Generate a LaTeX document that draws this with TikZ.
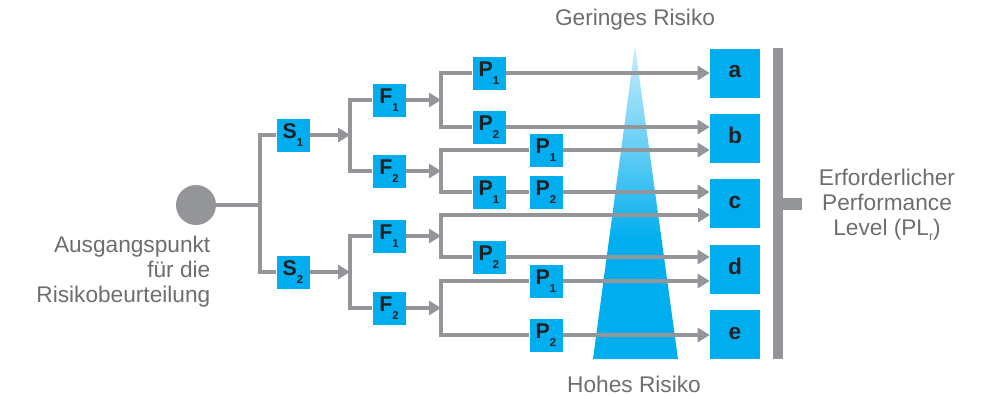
\documentclass[tikz,border=0pt]{standalone}
\usepackage{fontspec}
\setmainfont{Liberation Sans}
\usetikzlibrary{positioning,arrows.meta,backgrounds}
\definecolor{boxB}{HTML}{00AEEF}
\definecolor{lineG}{HTML}{939598}
\definecolor{textG}{HTML}{6D6E71}
\definecolor{textK}{HTML}{231F20}

% risk wedge: light at the top, full blue in the lower part
\pgfdeclareverticalshading{wedgefade}{100bp}{color(0bp)=(boxB); color(25bp)=(boxB);
  color(44bp)=(boxB); color(58bp)=(boxB!62); color(75bp)=(boxB!22); color(100bp)=(boxB!22)}

% letter with a low subscript, as in the boxes
\newcommand{\sublbl}[2]{#1\raisebox{-6pt}{\fontsize{8.5}{8.5}\selectfont #2}}

\begin{document}
\begin{tikzpicture}[
    x=0.75pt, y=-0.75pt,
    >={Triangle[length=9pt,width=10.5pt]},
    font=\fontsize{17}{18.75}\selectfont,
    sbox/.style={fill=boxB,minimum size=24.75pt,inner sep=0pt,text=textK,
                 font=\fontsize{16}{16}\selectfont\bfseries},
    plbox/.style={fill=boxB,minimum width=37.5pt,minimum height=36.75pt,
                  inner sep=0pt,text height=6.8pt,text depth=0pt,text=textK,
                  font=\fontsize{17}{17}\selectfont\bfseries},
    wire/.style={draw=lineG,line width=2.4pt},
    flow/.style={wire,->},
    note/.style={text=textG},
]
\useasboundingbox (0,0) rectangle (992,396);

% =====================================================================
%  start point and S / F levels
% =====================================================================
\node[circle,fill=lineG,minimum size=30pt,inner sep=0pt] (start) at (196,205) {};
\node[note,align=right,anchor=east] (starttext) at (215,272)
     {Ausgangspunkt\\für die\\Risikobeurteilung};

\node[sbox] (s1) at (293,135) {\sublbl{S}{1}};
\node[sbox] (s2) at (293,272) {\sublbl{S}{2}};

\node[sbox] (f1) at (389,100) {\sublbl{F}{1}};
\node[sbox] (f2) at (389,171) {\sublbl{F}{2}};
\node[sbox] (f3) at (389,236) {\sublbl{F}{1}};
\node[sbox] (f4) at (389,308) {\sublbl{F}{2}};

% branch points
\coordinate (j0)  at (260,205);
\coordinate (js1) at (350,135);
\coordinate (js2) at (350,272);
\foreach \n/\y in {1/100,2/171,3/236,4/308}
   \coordinate (jf\n) at (441,\y);

% =====================================================================
%  P level
% =====================================================================
\node[sbox] (p1) at (489,73)  {\sublbl{P}{1}};
\node[sbox] (p2) at (489,127) {\sublbl{P}{2}};
\node[sbox] (p3) at (546,150) {\sublbl{P}{1}};
\node[sbox] (p4) at (489,192) {\sublbl{P}{1}};
\node[sbox] (p5) at (546,192) {\sublbl{P}{2}};
\node[sbox] (p6) at (489,257) {\sublbl{P}{2}};
\node[sbox] (p7) at (546,281) {\sublbl{P}{1}};
\node[sbox] (p8) at (546,335) {\sublbl{P}{2}};

% =====================================================================
%  PLr boxes a..e
% =====================================================================
\foreach \n/\y in {a/73,b/138.5,c/203.5,d/269.5,e/334.5}
   \node[plbox] (\n) at (735,\y) {\n};
\coordinate (cin) at (710,215);

\fill[lineG] (773,48) rectangle (783,359);
\fill[lineG] (783,198) rectangle (802,210);
\node[note,align=center] (pltext) at (887,205)
     {Erforderlicher\\Performance\\Level (PL\raisebox{-4pt}{\fontsize{9}{9}\selectfont r})};

\node[note] (low)  at (635,20)  {Geringes Risiko};
\node[note] (high) at (634,384) {Hohes Risiko};

% =====================================================================
%  risk wedge and connectors (behind the boxes)
% =====================================================================
\begin{scope}[on background layer]
\shade[shading=wedgefade] (593,359) -- (635,46) -- (678,359) -- cycle;

\draw[wire] (start) -- (j0);
\foreach \j/\n in {j0/s1,j0/s2,js1/f1,js1/f2,js2/f3,js2/f4}
   \draw[wire] (\j) |- (\n);
\foreach \n/\j in {s1/js1,s2/js2,f1/jf1,f2/jf2,f3/jf3,f4/jf4}
   \draw[flow] (\n) -- (\j);

\draw[flow] (jf1) |- (p1) -- (a);
\draw[flow] (jf1) |- (p2) -- (p2 -| b.west);
\draw[flow] (jf2) |- (p3) -- (p3 -| b.west);
\draw[flow] (jf2) |- (p4) -- (p5) -- (p5 -| c.west);
\draw[flow] (jf3) |- (cin);
\draw[flow] (jf3) |- (p6) -- (p6 -| d.west);
\draw[flow] (jf4) |- (p7) -- (p7 -| d.west);
\draw[flow] (jf4) |- (p8) -- (p8 -| e.west);
\end{scope}

\end{tikzpicture}
\end{document}
